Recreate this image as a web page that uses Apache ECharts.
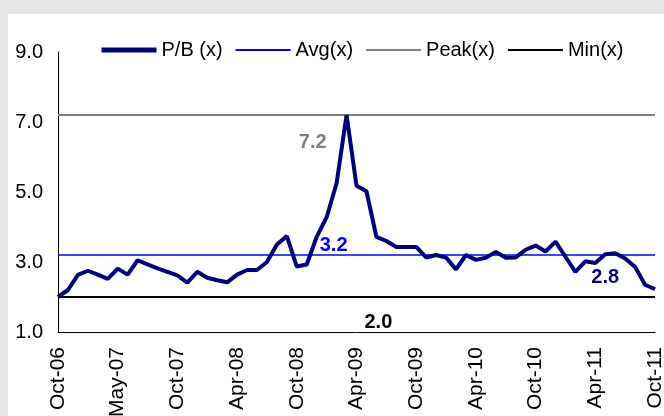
<!DOCTYPE html>
<html><head><meta charset="utf-8">
<script src="https://cdn.jsdelivr.net/npm/echarts@6/dist/echarts.min.js"></script>
<style>html,body{margin:0;padding:0;background:#e6e6e6}#c{width:664px;height:416px}</style>
</head><body><div id="c"></div><script>
const categories = ['Oct-06','Nov-06','Dec-06','Jan-07','Feb-07','Mar-07','Apr-07','May-07','Jun-07','Jul-07','Aug-07','Sep-07',
 'Oct-07','Nov-07','Dec-07','Jan-08','Feb-08','Mar-08','Apr-08','May-08','Jun-08','Jul-08','Aug-08','Sep-08',
 'Oct-08','Nov-08','Dec-08','Jan-09','Feb-09','Mar-09','Apr-09','May-09','Jun-09','Jul-09','Aug-09','Sep-09',
 'Oct-09','Nov-09','Dec-09','Jan-10','Feb-10','Mar-10','Apr-10','May-10','Jun-10','Jul-10','Aug-10','Sep-10',
 'Oct-10','Nov-10','Dec-10','Jan-11','Feb-11','Mar-11','Apr-11','May-11','Jun-11','Jul-11','Aug-11','Sep-11','Oct-11'];
const tickLabels = ['Oct-06','May-07','Oct-07','Apr-08','Oct-08','Apr-09','Oct-09','Apr-10','Oct-10','Apr-11','Oct-11'];
const pbValues = [2.0,2.2,2.63,2.75,2.64,2.52,2.81,2.64,3.05,2.93,2.82,2.72,
 2.62,2.41,2.72,2.55,2.48,2.42,2.64,2.77,2.77,3.0,3.5,3.74,
 2.87,2.93,3.72,4.28,5.25,7.2,5.18,5.02,3.72,3.6,3.43,3.43,
 3.43,3.13,3.2,3.13,2.79,3.2,3.06,3.12,3.29,3.12,3.13,3.35,
 3.47,3.3,3.58,3.15,2.72,3.02,2.97,3.22,3.25,3.1,2.86,2.35,2.22];
const avgValue = 3.2;
const peakValue = 7.2;
const minValue = 2.0;
const currentLabel = '2.8';
const yTicks = [1, 3, 5, 7, 9];

const FONT = 'Liberation Sans, Arial, sans-serif';
const chart = echarts.init(document.getElementById('c'));

function labelPoint(idx, val, text, color, offset) {
  return {
    coord: [idx, val], value: val,
    symbol: 'circle', symbolSize: 1, itemStyle: {color: 'rgba(0,0,0,0)'},
    label: {show: true, position: 'inside', formatter: text, color: color, fontWeight: 'bold',
            fontSize: 20, fontFamily: FONT, offset: offset}
  };
}
function hLine(val, color, width) {
  return {silent: true, symbol: 'none', label: {show: false},
          lineStyle: {color: color, width: width, type: 'solid'},
          emphasis: {disabled: true}, animation: false,
          data: [{yAxis: val}]};
}

chart.setOption({
  animation: false,
  graphic: [{type: 'rect', left: 8, top: 14, shape: {width: 660, height: 410}, style: {fill: '#fff'}, z: -10}],
  grid: {left: 58, right: 9, top: 52, bottom: 84, outerBoundsMode: 'none', containLabel: false},
  legend: {
    left: 94, top: 35, itemWidth: 55, itemHeight: 14, itemGap: 12,
    textStyle: {fontSize: 20, color: '#000', fontFamily: FONT},
    itemStyle: {opacity: 0},
    data: [
      {name: 'P/B (x)', lineStyle: {width: 5, color: '#000080'}},
      {name: 'Avg(x)', lineStyle: {width: 2, color: '#0000ff'}},
      {name: 'Peak(x)', lineStyle: {width: 2, color: '#808080'}},
      {name: 'Min(x)', lineStyle: {width: 2, color: '#000'}}
    ]
  },
  xAxis: {
    type: 'category', data: categories, boundaryGap: false,
    axisLine: {lineStyle: {color: '#000', width: 1}},
    axisTick: {show: false},
    axisLabel: {interval: 5, rotate: 90, margin: 15, fontSize: 21, color: '#000', fontFamily: FONT,
                formatter: (v, i) => tickLabels[i / 6]}
  },
  yAxis: {
    type: 'value', min: yTicks[0], max: yTicks[yTicks.length - 1], interval: 2,
    axisLine: {show: true, lineStyle: {color: '#000', width: 1}},
    axisTick: {show: false}, splitLine: {show: false},
    axisLabel: {margin: 15, fontSize: 20, color: '#000', fontFamily: FONT, formatter: v => v.toFixed(1)}
  },
  series: [
    {name: 'Peak(x)', type: 'line', data: [], symbol: 'none', color: '#808080', lineStyle: {color: '#808080', width: 2},
     markLine: hLine(peakValue, '#808080', 2),
     markPoint: {data: [labelPoint(25, peakValue, peakValue.toFixed(1), '#808080', [6, 27])]}},
    {name: 'Avg(x)', type: 'line', data: [], symbol: 'none', color: '#0000ff', lineStyle: {color: '#0000ff', width: 1.5},
     markLine: hLine(avgValue, '#0000ff', 1.5),
     markPoint: {data: [labelPoint(28, avgValue, avgValue.toFixed(1), '#0000ff', [-3, -10])]}},
    {name: 'Min(x)', type: 'line', data: [], symbol: 'none', color: '#000', lineStyle: {color: '#000', width: 2},
     markLine: hLine(minValue, '#000', 2),
     markPoint: {data: [labelPoint(32, minValue, minValue.toFixed(1), '#000', [2, 25])]}},
    {name: 'P/B (x)', type: 'line', data: pbValues, symbol: 'none', color: '#000080', z: 5,
     lineStyle: {color: '#000080', width: 4},
     markPoint: {data: [labelPoint(55, pbValues[55], currentLabel, '#000080', [0, 23])]}}
  ]
});
</script></body></html>
